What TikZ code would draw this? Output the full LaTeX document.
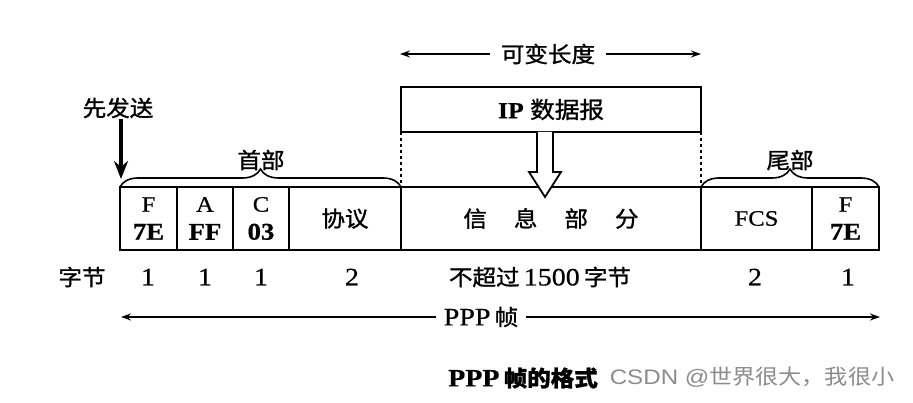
\documentclass[tikz,border=0pt]{standalone}
\usepackage{fontspec}
\setmainfont[FakeStretch=1.12,FakeBold=0.6]{Liberation Serif}
\newfontfamily\cjk[FakeStretch=1.07,FakeBold=1.2]{Noto Sans CJK SC}
\newfontfamily\wmfont[FakeStretch=1.15]{Liberation Sans}
\newfontfamily\wmcjk[FakeStretch=1.1]{Noto Sans CJK SC}
\usetikzlibrary{decorations.pathreplacing,arrows.meta}
\begin{document}
\begin{tikzpicture}[x=1pt,y=-1pt,
  field/.style={draw, line width=2.2pt, anchor=north west, minimum height=63pt,
    inner sep=0pt, outer sep=0pt, align=center, font=\fontsize{22}{28}\selectfont},
  cj/.style={font=\fontsize{22}{26}\selectfont\cjk},
  lbl/.style={font=\fontsize{25}{28}\selectfont, inner sep=0pt},
  arr/.style={line width=1.6pt, -{Stealth[length=10pt,width=7pt]}},
  bracestyle/.style={line width=1.6pt, decorate, decoration={brace, amplitude=18pt, aspect=0.5}}
]
\useasboundingbox (0,0) rectangle (913,403);
\fill[white] (0,0) rectangle (913,403);

% top: variable length
\node[cj, inner xsep=11pt, inner ysep=0pt] (var) at (548,54) {可变长度};
\coordinate (vl) at (400,54);
\coordinate (vr) at (701,54);
\draw[arr] (var.west) -- (vl);
\draw[arr] (var.east) -- (vr);

% IP datagram box
\node[draw, line width=2.2pt, anchor=north west, minimum width=300pt, minimum height=45pt,
  inner sep=0pt, outer sep=0pt] (ip) at (401,87)
  {\fontsize{23}{26}\selectfont\textbf{IP} {\cjk 数据报}};

% frame fields
\node[field, minimum width=57pt] (fF) at (120,187) {F\\{\fontsize{24}{28}\selectfont\bfseries 7E}};
\node[field, minimum width=56pt] (fA) at (fF.north east) {A\\{\fontsize{24}{28}\selectfont\bfseries FF}};
\node[field, minimum width=56pt] (fC) at (fA.north east) {C\\{\fontsize{24}{28}\selectfont\bfseries 03}};
\node[field, minimum width=112pt, font=\fontsize{22}{26}\selectfont\cjk] (fP) at (fC.north east) {协议};
\node[field, minimum width=300pt, font=\fontsize{22}{26}\selectfont\cjk] (fI) at (fP.north east)
  {信\hspace{27pt}息\hspace{27pt}部\hspace{27pt}分};
\node[field, minimum width=111pt] (fFCS) at (fI.north east) {FCS};
\node[field, minimum width=67pt] (fF2) at (fFCS.north east) {F\\{\fontsize{24}{28}\selectfont\bfseries 7E}};

% dashed guides
\draw[dashed, line width=1.2pt] (ip.south west) -- (fI.north west);
\draw[dashed, line width=1.2pt] (ip.south east) -- (fI.north east);

% hollow arrow
\draw[line width=1.8pt, fill=white] (537,132) -- (537,172) -- (529,172) -- (545,197)
  -- (561,172) -- (553,172) -- (553,132);

% braces
\draw[bracestyle] (fF.north west) -- (fP.north east);
\node[cj] (hdr) at (261,160) {首部};
\draw[bracestyle] (fFCS.north west) -- (fF2.north east);
\node[cj] (tlr) at (790,160) {尾部};

% send first
\node[cj, inner sep=1pt] (sf) at (118,108) {先发送};
\coordinate (s2) at (121,179);
\draw[line width=3.4pt, -{Stealth[length=18pt,width=14pt]}] (sf.south -| s2) -- (s2);

% byte counts
\node[cj] (zj) at (82,277) {字节};
\node[lbl] (n1) at (148,277) {1};
\node[lbl] (n2) at (205,277) {1};
\node[lbl] (n3) at (261,277) {1};
\node[lbl] (n4) at (352,277) {2};
\node[lbl] (n5) at (540,277) {{\cjk\fontsize{22}{26}\selectfont 不超过}\,1500\,{\cjk\fontsize{22}{26}\selectfont 字节}};
\node[lbl] (n6) at (755,277) {2};
\node[lbl] (n7) at (848,277) {1};

% PPP frame arrow
\node[lbl, inner xsep=8pt] (ppp) at (481,317) {PPP\,{\cjk\fontsize{22}{26}\selectfont 帧}};
\coordinate (pl) at (121,317);
\coordinate (pr) at (880,317);
\draw[arr] (ppp.west) -- (pl);
\draw[arr] (ppp.east) -- (pr);

% caption
\node[lbl, font=\fontsize{25}{28}\selectfont\bfseries] (cap) at (523,378)
  {PPP\,{\cjk\bfseries\fontsize{22}{26}\selectfont 帧的格式}};
\node[text=black!45, inner sep=0pt, font=\fontsize{21}{24}\selectfont\wmfont] (wm) at (752,377)
  {CSDN @{\wmcjk 世界很大，我很小}};
\end{tikzpicture}
\end{document}
